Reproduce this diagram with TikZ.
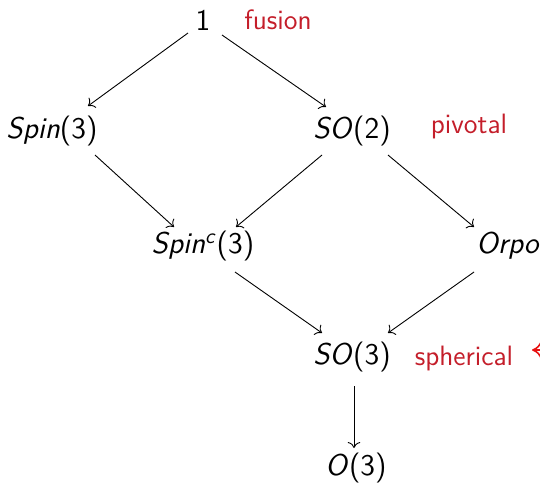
\documentclass[tikz,border=0pt]{standalone}
\usepackage{tikz}
\usetikzlibrary{arrows.meta}
\definecolor{rr}{RGB}{196, 30, 42}
\definecolor{ra}{RGB}{232, 18, 18}
\tikzset{grp/.style={font=\fontsize{15}{18}\selectfont\sffamily, inner sep=0pt},
  lbl/.style={font=\fontsize{14}{17}\selectfont\sffamily, color=rr, inner sep=0pt},
  map/.style={-{To[scale=1.15]}, line width=0.45pt, color=black}}

\begin{document}
\begin{tikzpicture}[scale=0.5]
\clip (0pt, 0pt) rectangle (540pt, -488pt);
\useasboundingbox (0pt, 0pt) rectangle (540pt, -488pt);
\node (1) [grp] at (203pt, -20pt) {1};
\node (2) [grp] at (52pt, -131pt) {\textit{Spin}(3)};
\node (3) [grp] at (352pt, -131pt) {\textit{SO}(2)};
\node (4) [grp] at (203pt, -246pt) {\textit{Spin}\textsuperscript{\textit{c}}(3)};
\node (5) [grp, anchor=west] at (476pt, -246pt) {\textit{Orpo}};
\node (6) [grp] at (352pt, -357pt) {\textit{SO}(3)};
\node (7) [grp] at (356pt, -468pt) {\textit{O}(3)};
\coordinate (a1) at (188pt, -33pt);
\coordinate (a2) at (222pt, -35pt);
\draw [map] (a1) to (88pt, -106pt);
\draw [map] (a2) to (326pt, -107pt);
\draw [map] (95pt, -155pt) to (174pt, -227pt);
\draw [map] (322pt, -155pt) to (236pt, -227pt);
\draw [map] (388pt, -155pt) to (474pt, -227pt);
\draw [map] (235pt, -272pt) to (322pt, -333pt);
\draw [map] (474pt, -272pt) to (388pt, -333pt);
\draw [map] (354pt, -386pt) to (354pt, -448pt);
\node (f) [lbl] at (278pt, -20pt) {fusion};
\node (p) [lbl] at (469pt, -126pt) {pivotal};
\node (s) [lbl] at (464pt, -358pt) {spherical};
\coordinate (e) at (570pt, -350pt);
\draw [-{To[scale=1.6]}, color=ra, line width=0.8pt] (e) to (532pt, -350pt);
\end{tikzpicture}
\end{document}
